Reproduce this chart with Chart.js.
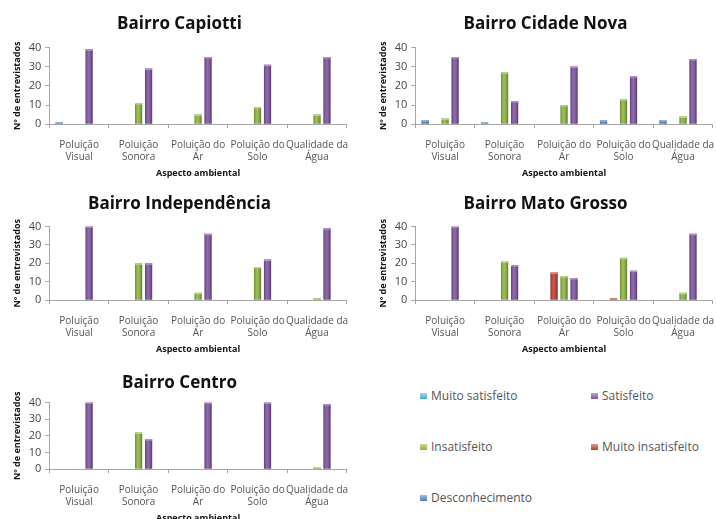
<!DOCTYPE html>
<html>
<head>
<meta charset="utf-8">
<script src="https://cdn.jsdelivr.net/npm/chart.js@4.4.0/dist/chart.umd.min.js"></script>
<style>
  html, body { margin: 0; padding: 0; background: #fff; }
  body { width: 716px; height: 519px; overflow: hidden; position: relative; font-family: "Open Sans", "DejaVu Sans", sans-serif; }
  .painel { position: absolute; }
  .legenda { position: absolute; font-size: 12px; color: #555; white-space: nowrap; }
  .legenda i { display: inline-block; width: 7px; height: 6px; margin-right: 4px; vertical-align: 1px; }
</style>
</head>
<body>
<div class="painel" style="left:0;top:0"><canvas id="c0" width="360" height="180"></canvas></div>
<div class="painel" style="left:366px;top:0"><canvas id="c1" width="360" height="180"></canvas></div>
<div class="painel" style="left:0;top:180px"><canvas id="c2" width="360" height="176"></canvas></div>
<div class="painel" style="left:366px;top:180px"><canvas id="c3" width="360" height="176"></canvas></div>
<div class="painel" style="left:0;top:360px"><canvas id="c4" width="360" height="165"></canvas></div>
<div id="legenda"></div>

<script>
// Dados
const categorias = [["Poluição", "Visual"], ["Poluição", "Sonora"], ["Poluição do", "Ar"], ["Poluição do", "Solo"], ["Qualidade da", "Água"]];
const bairros = ["Bairro Capiotti", "Bairro Cidade Nova", "Bairro Independência", "Bairro Mato Grosso", "Bairro Centro"];
const series = ["Desconhecimento", "Muito insatisfeito", "Insatisfeito", "Satisfeito", "Muito satisfeito"];
const cores = ["#4a7ebb", "#c0392b", "#8cb43a", "#7b4f9e", "#4bacc6"];

// valores por bairro, na ordem das series
const desconhecimento   = [[1, 0, 0, 0, 0], [2, 1, 0, 2, 2], [0, 0, 0, 0, 0], [0, 0, 0, 0, 0], [0, 0, 0, 0, 0]];
const muitoInsatisfeito = [[0, 0, 0, 0, 0], [0, 0, 0, 0, 0], [0, 0, 0, 0, 0], [0, 0, 15, 1, 0], [0, 0, 0, 0, 0]];
const insatisfeito      = [[0, 11, 5, 9, 5], [3, 27, 10, 13, 4], [0, 20, 4, 18, 1], [0, 21, 13, 23, 4], [0, 22, 0, 0, 1]];
const satisfeito        = [[39, 29, 35, 31, 35], [35, 12, 30, 25, 34], [40, 20, 36, 22, 39], [40, 19, 12, 16, 36], [40, 18, 40, 40, 39]];
const muitoSatisfeito   = [[0, 0, 0, 0, 0], [0, 0, 0, 0, 0], [0, 0, 0, 0, 0], [0, 0, 0, 0, 0], [0, 0, 0, 0, 0]];
const yTicks = [0, 10, 20, 30, 40];

const valores = [desconhecimento, muitoInsatisfeito, insatisfeito, satisfeito, muitoSatisfeito];

function clarear(hex, f) {
    const n = parseInt(hex.slice(1), 16);
    let r = (n >> 16) & 255, g = (n >> 8) & 255, b = n & 255;
    r = Math.round(r + (255 - r) * f); g = Math.round(g + (255 - g) * f); b = Math.round(b + (255 - b) * f);
    return `rgb(${r},${g},${b})`;
}

// sombreado por cima das barras para parecer cilindro (estilo Excel)
const cilindro = {
    id: 'cilindro',
    afterDatasetsDraw(chart) {
        const c = chart.ctx;
        chart.data.datasets.forEach((ds, k) => {
            chart.getDatasetMeta(k).data.forEach(bar => {
                const h = bar.base - bar.y;
                if (h <= 0) return;
                const x0 = bar.x - bar.width / 2, x1 = bar.x + bar.width / 2;
                const g = c.createLinearGradient(x0, 0, x1, 0);
                g.addColorStop(0, 'rgba(0,0,0,0.22)');
                g.addColorStop(0.4, 'rgba(255,255,255,0.15)');
                g.addColorStop(1, 'rgba(0,0,0,0.3)');
                c.save();
                c.fillStyle = g;
                c.fillRect(x0, bar.y, bar.width, h);
                c.fillStyle = clarear(cores[k], 0.4);
                c.fillRect(x0, bar.y, bar.width, Math.min(1.5, h));
                c.restore();
            });
        });
    }
};

const fonte = "'Open Sans', 'DejaVu Sans', sans-serif";
const paddings = [
    { top: 12, bottom: 1, left: 8, right: 9 },
    { top: 12, bottom: 1, left: 8, right: 9 },
    { top: 12, bottom: 1, left: 8, right: 9 },
    { top: 12, bottom: 1, left: 8, right: 9 },
    { top: 11, bottom: 1, left: 8, right: 9 }
];
const tituloBaixo = [13, 13, 12, 12, 9];

bairros.forEach((nome, i) => {
    const datasets = series.map((s, k) => ({
        label: s,
        data: valores[k][i],
        backgroundColor: cores[k],
        borderWidth: 0,
        categoryPercentage: 0.84,
        barPercentage: 0.72
    }));
    new Chart(document.getElementById('c' + i), {
        type: 'bar',
        data: { labels: categorias, datasets: datasets },
        options: {
            responsive: false,
            animation: false,
            layout: { padding: paddings[i] },
            plugins: {
                legend: { display: false },
                tooltip: { enabled: false },
                title: {
                    display: true, text: nome, color: '#111',
                    font: { family: fonte, size: 17, weight: 'bold' },
                    padding: { top: 2, bottom: tituloBaixo[i] }
                }
            },
            scales: {
                x: {
                    afterFit: s => { s.height -= 8; },
                    grid: { display: true, drawOnChartArea: false, offset: true, tickLength: 4, color: '#a6a6a6' },
                    border: { color: '#a6a6a6' },
                    ticks: { color: '#555', font: { family: fonte, size: 10 }, maxRotation: 0, autoSkip: false, padding: 11 },
                    title: { display: true, text: 'Aspecto ambiental', color: '#111', font: { family: fonte, size: 9, weight: 'bold' }, padding: { top: 2, bottom: 0 } }
                },
                y: {
                    min: 0, max: 40,
                    afterBuildTicks: ax => { ax.ticks = yTicks.map(v => ({ value: v })); },
                    grid: { display: true, drawOnChartArea: false, tickLength: 4, color: '#a6a6a6' },
                    border: { color: '#a6a6a6' },
                    ticks: { color: '#444', font: { family: fonte, size: 11 }, padding: 4, autoSkip: false },
                    title: { display: true, text: 'Nº de entrevistados', color: '#111', font: { family: fonte, size: 9, weight: 'bold' }, padding: { bottom: 2 } }
                }
            }
        },
        plugins: [cilindro]
    });
});

// legenda separada, em duas colunas
const ordemLegenda = [4, 3, 2, 1, 0];
const posLegenda = [[420, 387], [591, 387], [420, 438], [591, 438], [420, 489]];
const leg = document.getElementById('legenda');
ordemLegenda.forEach((k, j) => {
    const d = document.createElement('div');
    d.className = 'legenda';
    d.style.left = posLegenda[j][0] + 'px';
    d.style.top = posLegenda[j][1] + 'px';
    d.innerHTML = `<i style="background:linear-gradient(${clarear(cores[k], 0.5)}, ${cores[k]})"></i>${series[k]}`;
    leg.appendChild(d);
});
</script>
</body>
</html>
